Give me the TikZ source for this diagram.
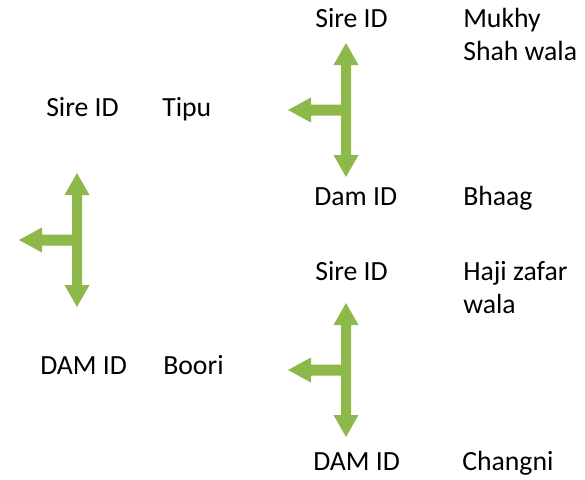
\documentclass[tikz,border=0pt]{standalone}
\usepackage{fontspec}
\setmainfont{Carlito}
\definecolor{leafgreen}{RGB}{142,184,74}
\tikzset{
    lbl/.style={anchor=base west, inner sep=0pt, align=left, font=\fontsize{20.8}{24.75}\selectfont},
    teearrow/.pic={
        \fill[leafgreen] (0,-67) -- (12.5,-45) -- (5,-45) -- (5,45) -- (12.5,45) -- (0,67)
            -- (-12.5,45) -- (-5,45) -- (-5,5.5) -- (-35,5.5) -- (-35,12.5) -- (-58,0)
            -- (-35,-12.5) -- (-35,-5.5) -- (-5,-5.5) -- (-5,-45) -- (-12.5,-45) -- cycle;
    }
}
\begin{document}
    \begin{tikzpicture}[x=0.75pt, y=-0.75pt]
        \useasboundingbox (0,0) rectangle (585,479);
        % first generation
        \node[lbl] (sire) at (46,116) {Sire ID};
        \node[lbl] (tipu) at (162,116) {Tipu};
        \node[lbl] (dam) at (40,374) {DAM ID};
        \node[lbl] (boori) at (163,374) {Boori};
        \pic at (77,240) {teearrow};
        % sire's parents (base is the last line)
        \node[lbl] (sireS) at (315,27) {Sire ID};
        \node[lbl] (mukhy) at (463,60) {Mukhy\\Shah wala};
        \node[lbl] (sireD) at (314,205) {Dam ID};
        \node[lbl] (bhaag) at (463,205) {Bhaag};
        \pic at (346,110) {teearrow};
        % dam's parents
        \node[lbl] (damS) at (315,280) {Sire ID};
        \node[lbl] (haji) at (463,313) {Haji zafar\\wala};
        \node[lbl] (damD) at (313,470) {DAM ID};
        \node[lbl] (changni) at (462,470) {Changni};
        \pic at (346,370) {teearrow};
    \end{tikzpicture}
\end{document}
